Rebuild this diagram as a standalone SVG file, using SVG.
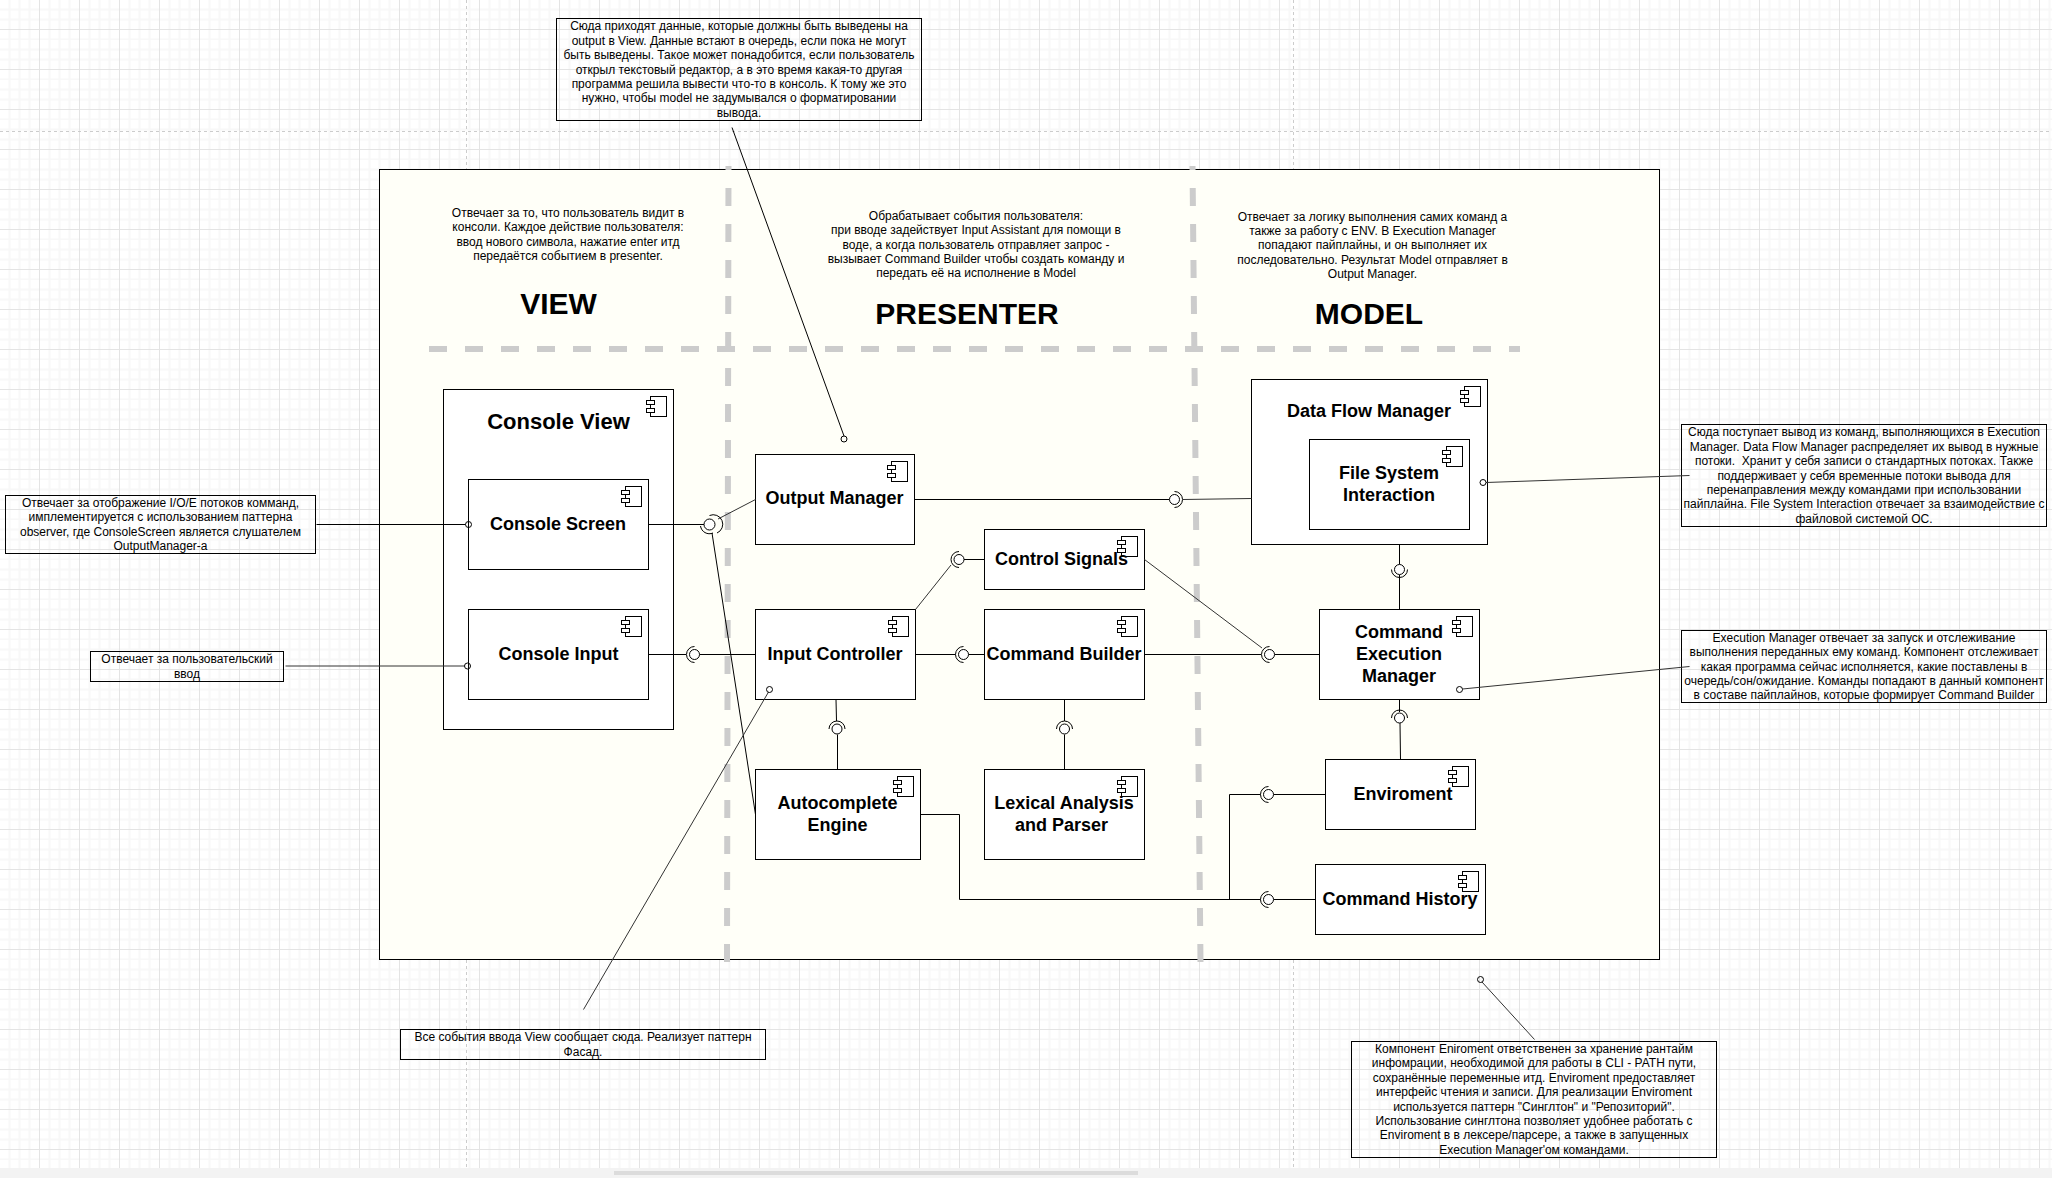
<svg xmlns="http://www.w3.org/2000/svg" width="2052" height="1178" viewBox="0 0 2052 1178">
<style>
text{font-family:"Liberation Sans",Arial,sans-serif;fill:#000;text-anchor:middle;white-space:pre}
.n{font-size:12px}
.l{font-size:18px;font-weight:bold}
.cv{font-size:22px;font-weight:bold}
.h{font-size:30px;font-weight:bold}
.box{fill:#fff;stroke:#000;stroke-width:1}
.note{fill:none;stroke:#000;stroke-width:1}
.dash{fill:none;stroke:#ccc;stroke-width:6;stroke-dasharray:18 18}
.pb{fill:none;stroke:#ccc;stroke-width:1;stroke-dasharray:3 3}
.c{fill:none;stroke:#000;stroke-width:1}
.g{fill:none;stroke:#333;stroke-width:1}
.i{fill:#fff;stroke:#000;stroke-width:1}
</style>
<defs>
<pattern id="grid" width="40" height="40" patternUnits="userSpaceOnUse">
<rect width="40" height="40" fill="#fff"/>
<path d="M9.5 0V40M19.5 0V40M29.5 0V40M0 9.5H40M0 19.5H40M0 39.5H40" fill="none" stroke="#f8f8f8" stroke-width="2"/>
<path d="M39.5 0V40M0 29.5H40" fill="none" stroke="#e4e4e4" stroke-width="1"/>
</pattern>
<g id="ci">
<rect class="box" x="0" y="0" width="16" height="20"/>
<rect class="box" x="-4" y="4" width="8" height="4"/>
<rect class="box" x="-4" y="12" width="8" height="4"/>
</g>
</defs>
<rect id="background" width="2052" height="1168" fill="url(#grid)"/>
<rect id="scroll-track" y="1168" width="2052" height="10" fill="#f3f3f3"/>
<rect id="scroll-thumb" x="614" y="1171" width="524" height="4" fill="#dcdcdc"/>
<path class="pb" d="M0 131.5H2052M466.5 0V1168M1293.5 0V1168"/>
<rect id="frame" x="379.5" y="169.5" width="1280" height="790" fill="#fffff8" stroke="#000" stroke-width="1"/>
<g id="separators">
<path class="dash" d="M727 962L728.5 166"/>
<path class="dash" d="M1200.5 962L1192.5 166"/>
<path class="dash" d="M429 349H1520"/>
</g>
<g id="captions">
<text class="n"><tspan x="568" y="217">Отвечает за то, что пользователь видит в</tspan><tspan x="568" y="231">консоли. Каждое действие пользователя:</tspan><tspan x="568" y="245.5">ввод нового символа, нажатие enter итд</tspan><tspan x="568" y="259.5">передаётся событием в presenter.</tspan></text>
<text class="n"><tspan x="976" y="220">Обрабатывает события пользователя:</tspan><tspan x="976" y="234">при вводе задействует Input Assistant для помощи в</tspan><tspan x="976" y="248.5">воде, а когда пользователь отправляет запрос -</tspan><tspan x="976" y="263">вызывает Command Builder чтобы создать команду и</tspan><tspan x="976" y="277">передать её на исполнение в Model</tspan></text>
<text class="n"><tspan x="1372.5" y="221">Отвечает за логику выполнения самих команд а</tspan><tspan x="1372.5" y="235">также за работу с ENV. В Execution Manager</tspan><tspan x="1372.5" y="249">попадают пайплайны, и он выполняет их</tspan><tspan x="1372.5" y="263.5">последовательно. Результат Model отправляет в</tspan><tspan x="1372.5" y="278">Output Manager.</tspan></text>
<text class="h" x="558.5" y="314">VIEW</text>
<text class="h" x="967" y="324">PRESENTER</text>
<text class="h" x="1369" y="324">MODEL</text>
</g>
<g id="console-view"><rect class="box" x="443.5" y="389.5" width="230" height="340"/><use href="#ci" x="650.5" y="396.5"/><text class="cv" x="558.5" y="429">Console View</text></g>
<g id="console-screen"><rect class="box" x="468.5" y="479.5" width="180" height="90"/><use href="#ci" x="625.5" y="486.5"/><text class="l" x="558" y="529.5">Console Screen</text></g>
<g id="console-input"><rect class="box" x="468.5" y="609.5" width="180" height="90"/><use href="#ci" x="625.5" y="616.5"/><text class="l" x="558.5" y="659.5">Console Input</text></g>
<g id="output-manager"><rect class="box" x="755.5" y="454.5" width="159" height="90"/><use href="#ci" x="891.5" y="461.5"/><text class="l" x="834.5" y="504">Output Manager</text></g>
<g id="control-signals"><rect class="box" x="984.5" y="529.5" width="160" height="60"/><use href="#ci" x="1121.5" y="536.5"/><text class="l" x="1061.5" y="565">Control Signals</text></g>
<g id="input-controller"><rect class="box" x="755.5" y="609.5" width="160" height="90"/><use href="#ci" x="892.5" y="616.5"/><text class="l" x="835" y="659.5">Input Controller</text></g>
<g id="command-builder"><rect class="box" x="984.5" y="609.5" width="160" height="90"/><use href="#ci" x="1121.5" y="616.5"/><text class="l" x="1064" y="659.5">Command Builder</text></g>
<g id="autocomplete-engine"><rect class="box" x="755.5" y="769.5" width="165" height="90"/><use href="#ci" x="897.5" y="776.5"/><text class="l"><tspan x="837.5" y="809">Autocomplete</tspan><tspan x="837.5" y="831">Engine</tspan></text></g>
<g id="lexical-parser"><rect class="box" x="984.5" y="769.5" width="160" height="90"/><use href="#ci" x="1121.5" y="776.5"/><text class="l"><tspan x="1064" y="809">Lexical Analysis</tspan><tspan x="1061.5" y="831">and Parser</tspan></text></g>
<g id="data-flow-manager"><rect class="box" x="1251.5" y="379.5" width="236" height="165"/><use href="#ci" x="1464.5" y="386.5"/><text class="l" x="1369" y="416.5">Data Flow Manager</text></g>
<g id="file-system"><rect class="box" x="1309.5" y="439.5" width="160" height="90"/><use href="#ci" x="1446.5" y="446.5"/><text class="l"><tspan x="1389" y="479">File System</tspan><tspan x="1389" y="501">Interaction</tspan></text></g>
<g id="command-execution-manager"><rect class="box" x="1319.5" y="609.5" width="160" height="90"/><use href="#ci" x="1456.5" y="616.5"/><text class="l"><tspan x="1399" y="638">Command</tspan><tspan x="1399" y="659.5">Execution</tspan><tspan x="1399" y="681.5">Manager</tspan></text></g>
<g id="enviroment"><rect class="box" x="1325.5" y="759.5" width="150" height="70"/><use href="#ci" x="1452.5" y="766.5"/><text class="l" x="1403" y="800">Enviroment</text></g>
<g id="command-history"><rect class="box" x="1315.5" y="864.5" width="170" height="70"/><use href="#ci" x="1462.5" y="871.5"/><text class="l" x="1400" y="905">Command History</text></g>
<g id="note-output"><rect class="note" x="556.5" y="18.5" width="365" height="102"/><text class="n"><tspan x="739" y="30">Сюда приходят данные, которые должны быть выведены на</tspan><tspan x="739" y="44.5">output в View. Данные встают в очередь, если пока не могут</tspan><tspan x="739" y="59">быть выведены. Такое может понадобится, если пользователь</tspan><tspan x="739" y="73.5">открыл текстовый редактор, а в это время какая-то другая</tspan><tspan x="739" y="88">программа решила вывести что-то в консоль. К тому же это</tspan><tspan x="739" y="102">нужно, чтобы model не задумывался о форматировании</tspan><tspan x="739" y="116.5">вывода.</tspan></text></g>
<g id="note-screen"><rect class="note" x="5.5" y="495.5" width="310" height="58"/><text class="n"><tspan x="160.5" y="507">Отвечает за отображение I/O/E потоков комманд,</tspan><tspan x="160.5" y="521">имплементируется с использованием паттерна</tspan><tspan x="160.5" y="535.5">observer, где ConsoleScreen является слушателем</tspan><tspan x="160.5" y="549.5">OutputManager-а</tspan></text></g>
<g id="note-input"><rect class="note" x="90.5" y="651.5" width="193" height="30"/><text class="n"><tspan x="187" y="663">Отвечает за пользовательский</tspan><tspan x="187" y="677.5">ввод</tspan></text></g>
<g id="note-dataflow"><rect class="note" x="1681.5" y="424.5" width="365" height="102"/><text class="n"><tspan x="1864" y="436">Сюда поступает вывод из команд, выполняющихся в Execution</tspan><tspan x="1864" y="450.5">Manager. Data Flow Manager распределяет их вывод в нужные</tspan><tspan x="1864" y="465">потоки.  Хранит у себя записи о стандартных потоках. Также</tspan><tspan x="1864" y="479.5">поддерживает у себя временные потоки вывода для</tspan><tspan x="1864" y="494">перенаправления между командами при использовании</tspan><tspan x="1864" y="508">пайплайна. File System Interaction отвечает за взаимодействие с</tspan><tspan x="1864" y="522.5">файловой системой ОС.</tspan></text></g>
<g id="note-execution"><rect class="note" x="1681.5" y="630.5" width="365" height="72"/><text class="n"><tspan x="1864" y="642">Execution Manager отвечает за запуск и отслеживание</tspan><tspan x="1864" y="656">выполнения переданных ему команд. Компонент отслеживает</tspan><tspan x="1864" y="670.5">какая программа сейчас исполняется, какие поставлены в</tspan><tspan x="1864" y="685">очередь/сон/ожидание. Команды попадают в данный компонент</tspan><tspan x="1864" y="699">в составе пайплайнов, которые формирует Command Builder</tspan></text></g>
<g id="note-enviroment"><rect class="note" x="1351.5" y="1041.5" width="365" height="116"/><text class="n"><tspan x="1534" y="1053">Компонент Eniroment ответственен за хранение рантайм</tspan><tspan x="1534" y="1067">инфомрации, необходимой для работы в CLI - PATH пути,</tspan><tspan x="1534" y="1082">сохранённые переменные итд. Enviroment предоставляет</tspan><tspan x="1534" y="1096">интерфейс чтения и записи. Для реализации Enviroment</tspan><tspan x="1534" y="1111">используется паттерн "Синглтон" и "Репозиторий".</tspan><tspan x="1534" y="1125">Использование синглтона позволяет удобнее работать с</tspan><tspan x="1534" y="1139">Enviroment в в лексере/парсере, а также в запущенных</tspan><tspan x="1534" y="1153.5">Execution Manager'ом командами.</tspan></text></g>
<g id="note-input-controller"><rect class="note" x="400.5" y="1029.5" width="365" height="30"/><text class="n"><tspan x="583" y="1041">Все события ввода View сообщает сюда. Реализует паттерн</tspan><tspan x="583" y="1055.5">Фасад.</tspan></text></g>
<g id="connectors">
<path class="c" d="M648.5 524.5H704"/>
<path class="g" d="M718 519L755.5 499.5"/>
<path class="c" d="M712 533L755.5 814.5"/>
<path class="c" d="M648.5 654.5H686M699.5 654.5H755.5"/>
<path class="c" d="M914.5 499.5H1169"/><path class="g" d="M1183 499.5L1251.5 498.5"/>
<path class="g" d="M915.5 609.5L951 565"/><path class="c" d="M964 559.5H984.5"/>
<path class="c" d="M915.5 654.5H955.5M968.5 654.5H984.5"/>
<path class="g" d="M1144.5 559.5L1262 648"/>
<path class="c" d="M1144.5 654.5H1261M1274.5 654.5H1319.5"/>
<path class="c" d="M1399.5 544.5V564.5M1399.5 575V609.5"/>
<path class="c" d="M1399.5 699.5V712M1400 723L1400.5 759.5"/>
<path class="c" d="M836 699.5L836.5 721M837.5 734.5V769.5"/>
<path class="c" d="M1064.5 699.5V721M1064.5 734.5V769.5"/>
<path class="c" d="M1273.5 794.5H1325.5M1260.5 794.5H1229.5V899.5"/>
<path class="c" d="M1273.5 899.5H1315.5M1260.5 899.5H959.5V814.5H920.5"/>
<path class="c" d="M732 127.5L844 436"/>
<path class="c" d="M316.5 524.5H465.5"/>
<path class="g" d="M285.5 666H464.5"/>
<path class="g" d="M1689.5 475.5L1486 482.5"/>
<path class="g" d="M1689.5 666.5L1462.5 689"/>
<path class="g" d="M1482 982L1534.5 1039.5"/>
<path class="g" d="M583.5 1009.5L768.5 692"/>
<circle class="i" cx="709.5" cy="524.5" r="5.5"/><path class="c" d="M709.5 515.5A9 9 0 0 1 717 533M713 533A9 9 0 0 1 700.5 526"/>
<circle class="i" cx="694.5" cy="654.5" r="5"/><path class="c" d="M694.5 646.5A8 8 0 0 0 694.5 662.5"/>
<circle class="i" cx="1174.5" cy="499.5" r="5"/><path class="c" d="M1174.5 491.5A8 8 0 0 1 1174.5 507.5"/>
<circle class="i" cx="959" cy="559.5" r="5"/><path class="c" d="M959 551.5A8 8 0 0 0 959 567.5"/>
<circle class="i" cx="963.5" cy="654.5" r="5"/><path class="c" d="M963.5 646.5A8 8 0 0 0 963.5 662.5"/>
<circle class="i" cx="1269.5" cy="654.5" r="5"/><path class="c" d="M1269.5 646.5A8 8 0 0 0 1269.5 662.5"/>
<circle class="i" cx="1399.5" cy="569.5" r="5"/><path class="c" d="M1391.5 569.5A8 8 0 0 0 1407.5 569.5"/>
<circle class="i" cx="1399.5" cy="718" r="5"/><path class="c" d="M1391.5 718A8 8 0 0 1 1407.5 718"/>
<circle class="i" cx="837" cy="729" r="5"/><path class="c" d="M829 729A8 8 0 0 1 845 729"/>
<circle class="i" cx="1064.5" cy="729" r="5"/><path class="c" d="M1056.5 729A8 8 0 0 1 1072.5 729"/>
<circle class="i" cx="1268.5" cy="794.5" r="5"/><path class="c" d="M1268.5 786.5A8 8 0 0 0 1268.5 802.5"/>
<circle class="i" cx="1268.5" cy="899.5" r="5"/><path class="c" d="M1268.5 891.5A8 8 0 0 0 1268.5 907.5"/>
<circle class="c" cx="844" cy="439" r="3"/>
<circle class="c" cx="468.5" cy="524.5" r="3"/>
<circle class="c" cx="467.5" cy="666" r="3"/>
<circle class="c" cx="1483" cy="482.5" r="3"/>
<circle class="c" cx="1459.5" cy="689.5" r="3"/>
<circle class="c" cx="1480.5" cy="979.5" r="3"/>
<circle class="c" cx="769.5" cy="689.5" r="3"/>
</g>
</svg>
